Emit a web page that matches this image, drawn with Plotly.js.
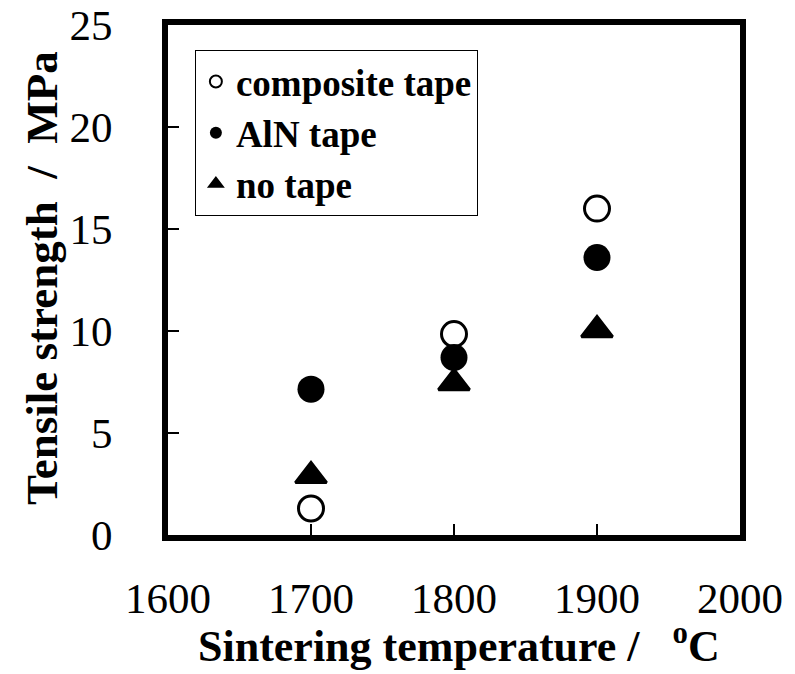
<!DOCTYPE html>
<html>
<head>
<meta charset="utf-8">
<script src="https://cdn.plot.ly/plotly-3.0.1.min.js"></script>
<style>html,body{margin:0;padding:0;background:#fff;}</style>
</head>
<body>
<div id="chart" style="width:795px;height:674px;"></div>
<script>
const temperatures = [1700, 1800, 1900];
const compositeTape = [1.3, 9.85, 16.0];
const alnTape = [7.15, 8.7, 13.6];
const noTape = [2.9, 7.45, 10.05];
const seriesNames = ["composite tape", "AlN tape", "no tape"];
const xTicks = [1600, 1700, 1800, 1900, 2000];
const yTicks = [0, 5, 10, 15, 20, 25];
const xTitle = "Sintering temperature /\u00A0\u00A0\u00A0<sup>o</sup>C";
const yTitle = "Tensile strength\u00A0\u00A0/\u00A0\u00A0MPa";

const serif = "'Liberation Serif', 'Times New Roman', serif";
const traces = [
  {x: temperatures, y: compositeTape, name: "<b>" + seriesNames[0] + "</b>", type: "scatter", mode: "markers",
   marker: {symbol: "circle-open", size: 25, color: "#000", line: {width: 3, color: "#000"}}},
  {x: temperatures, y: alnTape, name: "<b>" + seriesNames[1] + "</b>", type: "scatter", mode: "markers",
   marker: {symbol: "circle", size: 27, color: "#000"}},
  {x: temperatures, y: noTape, name: "<b>" + seriesNames[2] + "</b>", type: "scatter", mode: "markers",
   marker: {symbol: "triangle-up", size: 27, color: "#000", line: {width: 3, color: "#000"}}}
];
const layout = {
  width: 795, height: 674,
  margin: {l: 168, r: 55, t: 25, b: 139},
  paper_bgcolor: "#fff", plot_bgcolor: "#fff",
  showlegend: true,
  legend: {x: 0.047, y: 0.951, xanchor: "left", yanchor: "top",
    bordercolor: "#000", borderwidth: 1, bgcolor: "#fff",
    font: {family: serif, size: 37, color: "#000"},
    itemsizing: "constant"},
  xaxis: {range: [1600, 2000], tickvals: xTicks, ticktext: xTicks.map(String),
    ticks: "inside", ticklen: 11, tickwidth: 1.5, tickcolor: "#000",
    showline: true, linewidth: 6, linecolor: "#000", mirror: true,
    showgrid: false, zeroline: false, ticklabelstandoff: 20,
    tickfont: {family: serif, size: 43, color: "#000"}},
  yaxis: {range: [0, 25], tickvals: yTicks, ticktext: yTicks.map(String),
    ticks: "inside", ticklen: 11, tickwidth: 1.5, tickcolor: "#000",
    showline: true, linewidth: 6, linecolor: "#000", mirror: true,
    showgrid: false, zeroline: false, ticklabelstandoff: 41,
    tickfont: {family: serif, size: 43, color: "#000"}},
  annotations: [
    {text: "<b>" + xTitle + "</b>", xref: "paper", yref: "paper", x: 0.509, y: -0.212,
     xanchor: "center", yanchor: "middle", showarrow: false,
     font: {family: serif, size: 44, color: "#000"}},
    {text: "<b>" + yTitle + "</b>", xref: "paper", yref: "paper", x: -0.22, y: 0.504,
     xanchor: "center", yanchor: "middle", showarrow: false, textangle: -90,
     font: {family: serif, size: 45, color: "#000"}}
  ]
};
Plotly.newPlot("chart", traces, layout, {displayModeBar: false, staticPlot: true});
</script>
</body>
</html>
